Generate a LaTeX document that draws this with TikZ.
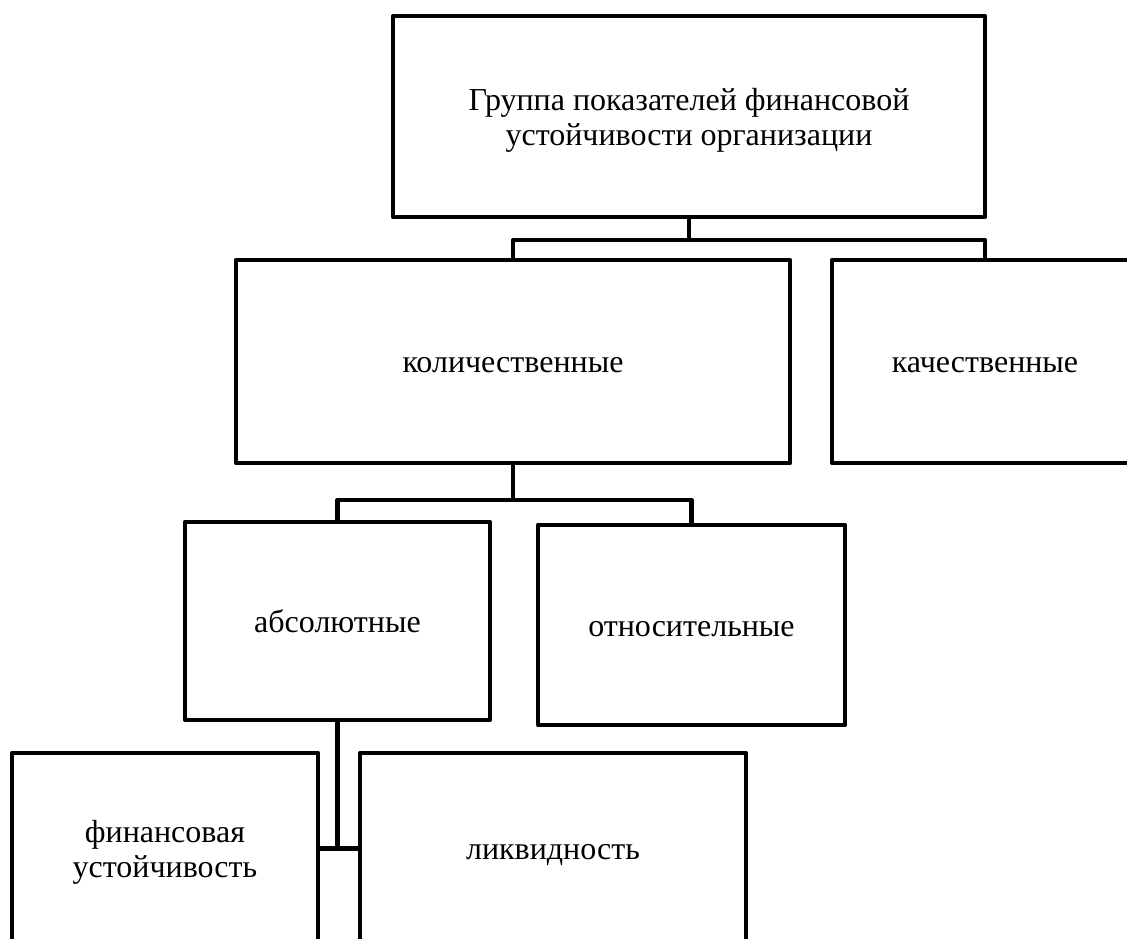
\documentclass[tikz,border=0pt]{standalone}
\usepackage{fontspec}
\setmainfont{Liberation Serif}
% fixed top and bottom of the text block so every label sits alike in its box
\newcommand{\labeltop}{\rule{0pt}{34pt}}
\newcommand{\labelbottom}{\rule[-12pt]{0pt}{12pt}}
\begin{document}
\begin{tikzpicture}[x=1pt,y=-1pt,
  line width=4.5pt, line join=round,
  box/.style={draw, rectangle, align=center, inner sep=0pt, outer sep=0pt,
    font=\fontsize{32}{35}\selectfont,
    execute at begin node=\labeltop, execute at end node=\labelbottom},
  link/.style={draw}]
\useasboundingbox (0,0) rectangle (1127,938);
\clip (0,0) rectangle (1127,938);

% boxes
\node[box, minimum width=592pt, minimum height=201pt] (top) at (689,116.5)
  {\labeltop Группа показателей финансовой\\устойчивости организации};
\node[box, minimum width=554pt, minimum height=203pt] (kol) at (513,361.5) {количественные};
\node[box, minimum width=306pt, minimum height=203pt] (kach) at (985,361.5) {качественные};
\node[box, minimum width=305pt, minimum height=198pt] (abs) at (337.5,621) {абсолютные};
\node[box, minimum width=307pt, minimum height=200pt] (otn) at (691.5,625) {относительные};
\node[box, minimum width=306pt, minimum height=191pt] (fin) at (165,848.5) {\labeltop финансовая\\устойчивость};
\node[box, minimum width=386pt, minimum height=191pt] (likv) at (553,848.5) {ликвидность};

% connectors
\draw[link] (top.south) -- ++(0,23) coordinate (j1);
\draw[link] (kol.north) |- (j1) -| (kach.north);
\draw[link] (kol.south) -- ++(0,37) coordinate (j2);
\draw[link] (abs.north) |- (j2) -| (otn.north);
\coordinate (j3) at (abs.south |- likv.west);
\draw[link] (abs.south) -- (j3);
\draw[link] (fin.east) -- (likv.west);
\end{tikzpicture}
\end{document}
